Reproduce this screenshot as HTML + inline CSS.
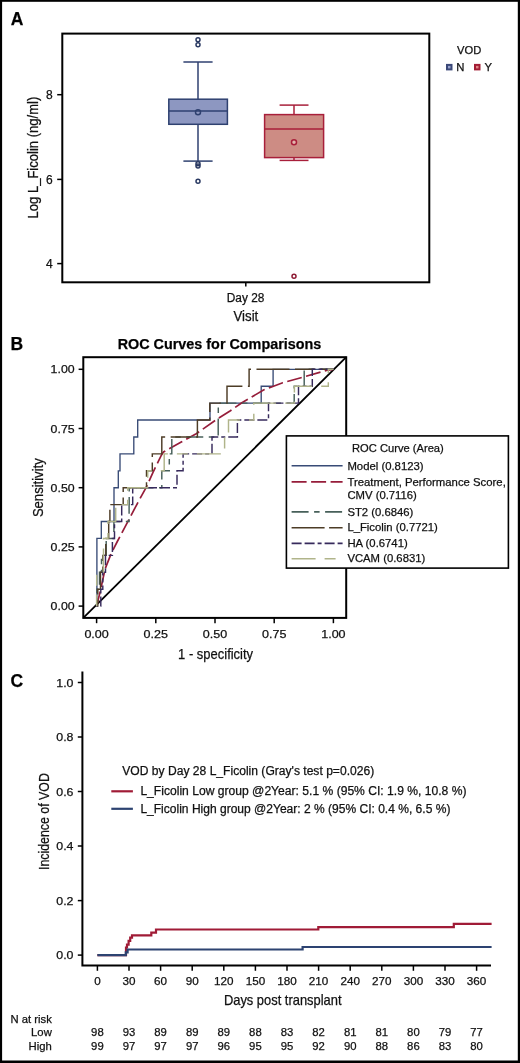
<!DOCTYPE html>
<html><head><meta charset="utf-8"><title>Figure</title>
<style>html,body{margin:0;padding:0;background:#fff;}body{width:520px;height:1063px;overflow:hidden;font-family:"Liberation Sans",sans-serif;}svg{display:block;will-change:transform;}text{font-family:"Liberation Sans",sans-serif;stroke:#111;stroke-width:0.25px;}</style>
</head><body>
<svg width="520" height="1063" viewBox="0 0 520 1063">
<rect x="0" y="0" width="520" height="1063" fill="#fff"/>
<g>
<text x="10.7" y="25.4" font-size="17.5" text-anchor="start" font-weight="bold" fill="#000" >A</text>
<rect x="62.3" y="33.6" width="367.0" height="248.70000000000002" fill="none" stroke="#000" stroke-width="2"/>
<line x1="57.2" y1="94.7" x2="62.3" y2="94.7" stroke="#000" stroke-width="1.5" />
<text x="52.8" y="99.0" font-size="12" text-anchor="end" fill="#111" >8</text>
<line x1="57.2" y1="179.4" x2="62.3" y2="179.4" stroke="#000" stroke-width="1.5" />
<text x="52.8" y="183.70000000000002" font-size="12" text-anchor="end" fill="#111" >6</text>
<line x1="57.2" y1="263.6" x2="62.3" y2="263.6" stroke="#000" stroke-width="1.5" />
<text x="52.8" y="267.90000000000003" font-size="12" text-anchor="end" fill="#111" >4</text>
<line x1="245.8" y1="282.3" x2="245.8" y2="286.6" stroke="#000" stroke-width="1.5" />
<text x="245.6" y="301.7" font-size="12" text-anchor="middle" textLength="37.6" lengthAdjust="spacingAndGlyphs" fill="#111" >Day 28</text>
<text x="245.9" y="321.2" font-size="14.5" text-anchor="middle" textLength="24.8" lengthAdjust="spacingAndGlyphs" fill="#111" >Visit</text>
<text x="37.8" y="218.5" font-size="14.5" text-anchor="start" textLength="121.8" lengthAdjust="spacingAndGlyphs" transform="rotate(-90 37.8 218.5)" fill="#111" >Log L_Ficolin (ng/ml)</text>
<g stroke="#2f4170" stroke-width="1.5" fill="none">
<line x1="198.0" y1="62" x2="198.0" y2="99.2"/>
<line x1="198.0" y1="124.3" x2="198.0" y2="161.1"/>
<line x1="183.4" y1="62" x2="212.6" y2="62"/>
<line x1="183.4" y1="161.1" x2="212.6" y2="161.1"/>
<rect x="168.8" y="99.2" width="58.6" height="25.1" fill="#8d97c1"/>
<line x1="168.8" y1="110.9" x2="227.4" y2="110.9"/>
<circle cx="198.0" cy="112.3" r="2.5"/>
<circle cx="198.0" cy="39.8" r="2.0" stroke-width="1.5" stroke="#2a3962"/>
<circle cx="198.0" cy="44.7" r="2.0" stroke-width="1.5" stroke="#2a3962"/>
<circle cx="198.0" cy="163.7" r="2.0" stroke-width="1.5" stroke="#2a3962"/>
<circle cx="198.0" cy="166.1" r="2.0" stroke-width="1.5" stroke="#2a3962"/>
<circle cx="198.0" cy="181.2" r="2.0" stroke-width="1.5" stroke="#2a3962"/>
</g>
<g stroke="#a81f3a" stroke-width="1.5" fill="none">
<line x1="294.0" y1="105.1" x2="294.0" y2="114.6"/>
<line x1="294.0" y1="157.6" x2="294.0" y2="160.4"/>
<line x1="279.6" y1="105.1" x2="308.5" y2="105.1"/>
<line x1="279.6" y1="160.4" x2="308.5" y2="160.4"/>
<rect x="264.6" y="114.6" width="59.0" height="43.0" fill="#cd8c84"/>
<line x1="264.6" y1="128.9" x2="323.6" y2="128.9"/>
<circle cx="294.0" cy="142.3" r="2.5" fill="#e3b5ad"/>
<circle cx="294.0" cy="276.3" r="2.0" stroke-width="1.5" stroke="#8e1a34"/>
</g>
<text x="469.2" y="53.5" font-size="11.3" text-anchor="middle" textLength="24.2" lengthAdjust="spacingAndGlyphs" fill="#111" >VOD</text>
<rect x="447.0" y="64.9" width="4.5" height="4.5" fill="#98a2cc" stroke="#3a4878" stroke-width="2"/>
<text x="456.2" y="70.9" font-size="11.3" text-anchor="start" fill="#111" >N</text>
<rect x="475.0" y="64.9" width="4.5" height="4.5" fill="#e08585" stroke="#a31c34" stroke-width="2"/>
<text x="484.4" y="70.9" font-size="11.3" text-anchor="start" fill="#111" >Y</text>
</g>
<g>
<text x="10.5" y="349.6" font-size="17.5" text-anchor="start" font-weight="bold" fill="#000" >B</text>
<text x="219.5" y="348.5" font-size="14" text-anchor="middle" font-weight="bold" textLength="203.6" lengthAdjust="spacingAndGlyphs" fill="#000" >ROC Curves for Comparisons</text>
<line x1="83.3" y1="617.9" x2="346.2" y2="357.2" stroke="#000" stroke-width="1.8" />
<g fill="none" stroke-width="1.45" stroke-linejoin="miter">
<path d="M96.9,606.1 V538.4 H101.3 V521.5 H114 V487.7 H118.3 V470.8 H120 V453.9 H133.8 V437 H137.7 V420 H210 V403.1 H261.2 V386.2 H273.1 V369.3 H333.4" stroke="#384b76" stroke-width="1.35"/>
<path d="M96.6,606.1 L100.4,590.8 L105,569.2 L111.2,553.5 L117.3,541.5 L139.2,500 L146.2,487.4 L153,472.3 L161.5,455 L163.5,452 L180.8,442.3 L196.2,433.8 L217,419.2 L230,411 L241.5,403 L263.5,390 L282.7,382.7 L300,378 L327.3,370.2 L333.4,369.3" stroke="#961d3a" stroke-width="1.7" stroke-dasharray="15 4.5"/>
<path d="M96.6,606.1 H96.9 V589.19 H99.5 V572.27 H101.5 V555.36 H106.2 V538.44 H113.9 V521.53 H129.1 V504.61 H129.2 V487.7 H161.8 V470.79 H169.3 V453.87 H171.8 V436.96 H218.2 V420.04 H218.3 V403.13 H294.2 V386.21 H304.2 V369.3 H333.4" stroke="#47605a" stroke-dasharray="17 5.5 5.5 5.5" stroke-dashoffset="9.2"/>
<path d="M96.6,606.1 H97.8 V589.19 H100.5 V572.27 H102.8 V555.36 H105.8 V538.44 H108.7 V521.53 H109.9 V504.61 H123.2 V487.7 H146.5 V470.79 H152.3 V453.87 H161.8 V436.96 H197.4 V420.04 H209.8 V403.13 H227.0 V386.21 H249.1 V369.3 H333.4" stroke="#4d3c26" stroke-dasharray="33 5.5 20 5.5" stroke-dashoffset="51.31"/>
<path d="M96.6,606.1 H100.8 V589.19 H102.8 V572.27 H105.5 V555.36 H112.4 V538.44 H114.5 V521.53 H121.7 V504.61 H132.7 V487.7 H177 V470.79 H183.1 V453.87 H212.0 V436.96 H237.4 V420.04 H268.5 V403.13 H298.5 V386.21 H312.3 V369.3 H333.4" stroke="#372a5c" stroke-dasharray="10 3 10 3 4 3" stroke-dashoffset="29.2"/>
<path d="M96.6,606.1 H96.6 V589.19 H96.7 V572.27 H103.4 V555.36 H103.5 V538.44 H108 V521.53 H115.7 V504.61 H127.7 V487.7 H147.7 V470.79 H164.2 V453.87 H224.6 V436.96 H228.5 V420.04 H253.8 V403.13 H294.4 V386.21 H328.3 V369.3 H333.4" stroke="#b0b48a" stroke-dasharray="24 9 11 9" stroke-dashoffset="12.5"/>
</g>
<rect x="83.3" y="357.2" width="262.9" height="260.7" fill="none" stroke="#000" stroke-width="2"/>
<line x1="96.6" y1="617.9" x2="96.6" y2="623.2" stroke="#000" stroke-width="1.5" />
<text x="96.6" y="638.4" font-size="11.4" text-anchor="middle" textLength="24.4" lengthAdjust="spacingAndGlyphs" fill="#111" >0.00</text>
<line x1="78.6" y1="606.1" x2="83.3" y2="606.1" stroke="#000" stroke-width="1.5" />
<text x="74.6" y="610.2" font-size="11.4" text-anchor="end" textLength="24.0" lengthAdjust="spacingAndGlyphs" fill="#111" >0.00</text>
<line x1="155.8" y1="617.9" x2="155.8" y2="623.2" stroke="#000" stroke-width="1.5" />
<text x="155.8" y="638.4" font-size="11.4" text-anchor="middle" textLength="24.4" lengthAdjust="spacingAndGlyphs" fill="#111" >0.25</text>
<line x1="78.6" y1="546.9" x2="83.3" y2="546.9" stroke="#000" stroke-width="1.5" />
<text x="74.6" y="551.0" font-size="11.4" text-anchor="end" textLength="24.0" lengthAdjust="spacingAndGlyphs" fill="#111" >0.25</text>
<line x1="215.0" y1="617.9" x2="215.0" y2="623.2" stroke="#000" stroke-width="1.5" />
<text x="215.0" y="638.4" font-size="11.4" text-anchor="middle" textLength="24.4" lengthAdjust="spacingAndGlyphs" fill="#111" >0.50</text>
<line x1="78.6" y1="487.7" x2="83.3" y2="487.7" stroke="#000" stroke-width="1.5" />
<text x="74.6" y="491.8" font-size="11.4" text-anchor="end" textLength="24.0" lengthAdjust="spacingAndGlyphs" fill="#111" >0.50</text>
<line x1="274.2" y1="617.9" x2="274.2" y2="623.2" stroke="#000" stroke-width="1.5" />
<text x="274.2" y="638.4" font-size="11.4" text-anchor="middle" textLength="24.4" lengthAdjust="spacingAndGlyphs" fill="#111" >0.75</text>
<line x1="78.6" y1="428.5" x2="83.3" y2="428.5" stroke="#000" stroke-width="1.5" />
<text x="74.6" y="432.6" font-size="11.4" text-anchor="end" textLength="24.0" lengthAdjust="spacingAndGlyphs" fill="#111" >0.75</text>
<line x1="333.4" y1="617.9" x2="333.4" y2="623.2" stroke="#000" stroke-width="1.5" />
<text x="333.4" y="638.4" font-size="11.4" text-anchor="middle" textLength="24.4" lengthAdjust="spacingAndGlyphs" fill="#111" >1.00</text>
<line x1="78.6" y1="369.3" x2="83.3" y2="369.3" stroke="#000" stroke-width="1.5" />
<text x="74.6" y="373.40000000000003" font-size="11.4" text-anchor="end" textLength="24.0" lengthAdjust="spacingAndGlyphs" fill="#111" >1.00</text>
<text x="215.6" y="658.8" font-size="14.5" text-anchor="middle" textLength="75.0" lengthAdjust="spacingAndGlyphs" fill="#111" >1 - specificity</text>
<text x="43.1" y="517.1" font-size="15" text-anchor="start" textLength="58.8" lengthAdjust="spacingAndGlyphs" transform="rotate(-90 43.1 517.1)" fill="#111" >Sensitivity</text>
<rect x="286.4" y="435.9" width="222.0" height="132.2" fill="#fff" stroke="#000" stroke-width="1.6"/>
<text x="397.9" y="452.4" font-size="11.3" text-anchor="middle" textLength="91.8" lengthAdjust="spacingAndGlyphs" fill="#111" >ROC Curve (Area)</text>
<line x1="291.6" y1="465.8" x2="342.6" y2="465.8" stroke="#384b76" stroke-width="1.6"/>
<text x="347.4" y="469.9" font-size="11.3" text-anchor="start" textLength="76.2" lengthAdjust="spacingAndGlyphs" fill="#111" >Model (0.8123)</text>
<line x1="291.6" y1="481.9" x2="342.6" y2="481.9" stroke="#961d3a" stroke-width="1.6" stroke-dasharray="15 4.5"/>
<text x="347.4" y="486.1" font-size="11.3" text-anchor="start" textLength="158.4" lengthAdjust="spacingAndGlyphs" fill="#111" >Treatment, Performance Score,</text>
<text x="347.4" y="498.8" font-size="11.3" text-anchor="start" fill="#111" >CMV (0.7116)</text>
<line x1="291.6" y1="511.9" x2="342.6" y2="511.9" stroke="#47605a" stroke-width="1.6" stroke-dasharray="17 5.5 5.5 5.5"/>
<text x="347.4" y="515.7" font-size="11.3" text-anchor="start" fill="#111" >ST2 (0.6846)</text>
<line x1="291.6" y1="527.8" x2="342.6" y2="527.8" stroke="#4d3c26" stroke-width="1.6" stroke-dasharray="33 4.5 20 4.5"/>
<text x="347.4" y="531.2" font-size="11.3" text-anchor="start" fill="#111" >L_Ficolin (0.7721)</text>
<line x1="291.6" y1="543.4" x2="342.6" y2="543.4" stroke="#372a5c" stroke-width="1.6" stroke-dasharray="10 3 10 3 4 3"/>
<text x="347.4" y="546.8" font-size="11.3" text-anchor="start" fill="#111" >HA (0.6741)</text>
<line x1="291.6" y1="558.7" x2="336.0" y2="558.7" stroke="#b0b48a" stroke-width="1.6" stroke-dasharray="24 9 11 9"/>
<text x="347.4" y="562.3" font-size="11.3" text-anchor="start" fill="#111" >VCAM (0.6831)</text>
</g>
<g>
<text x="10.5" y="686.9" font-size="17.5" text-anchor="start" font-weight="bold" fill="#000" >C</text>
<path d="M82.4,671.4 V965.6 H491" fill="none" stroke="#000" stroke-width="2"/>
<line x1="77.8" y1="955.1" x2="82.4" y2="955.1" stroke="#000" stroke-width="1.5" />
<text x="73.5" y="959.2" font-size="11.4" text-anchor="end" textLength="17.2" lengthAdjust="spacingAndGlyphs" fill="#111" >0.0</text>
<line x1="77.8" y1="900.6" x2="82.4" y2="900.6" stroke="#000" stroke-width="1.5" />
<text x="73.5" y="904.7" font-size="11.4" text-anchor="end" textLength="17.2" lengthAdjust="spacingAndGlyphs" fill="#111" >0.2</text>
<line x1="77.8" y1="846.0" x2="82.4" y2="846.0" stroke="#000" stroke-width="1.5" />
<text x="73.5" y="850.1" font-size="11.4" text-anchor="end" textLength="17.2" lengthAdjust="spacingAndGlyphs" fill="#111" >0.4</text>
<line x1="77.8" y1="791.5" x2="82.4" y2="791.5" stroke="#000" stroke-width="1.5" />
<text x="73.5" y="795.6" font-size="11.4" text-anchor="end" textLength="17.2" lengthAdjust="spacingAndGlyphs" fill="#111" >0.6</text>
<line x1="77.8" y1="737.0" x2="82.4" y2="737.0" stroke="#000" stroke-width="1.5" />
<text x="73.5" y="741.1" font-size="11.4" text-anchor="end" textLength="17.2" lengthAdjust="spacingAndGlyphs" fill="#111" >0.8</text>
<line x1="77.8" y1="682.5" x2="82.4" y2="682.5" stroke="#000" stroke-width="1.5" />
<text x="73.5" y="686.6" font-size="11.4" text-anchor="end" textLength="17.2" lengthAdjust="spacingAndGlyphs" fill="#111" >1.0</text>
<line x1="97.4" y1="965.6" x2="97.4" y2="970.8" stroke="#000" stroke-width="1.5" />
<text x="97.4" y="985.1" font-size="11.2" text-anchor="middle" textLength="6.5" lengthAdjust="spacingAndGlyphs" fill="#111" >0</text>
<text x="97.4" y="1036.4" font-size="11.3" text-anchor="middle" fill="#111" >98</text>
<text x="97.4" y="1049.6" font-size="11.3" text-anchor="middle" fill="#111" >99</text>
<line x1="129.0" y1="965.6" x2="129.0" y2="970.8" stroke="#000" stroke-width="1.5" />
<text x="129.0" y="985.1" font-size="11.2" text-anchor="middle" textLength="13.0" lengthAdjust="spacingAndGlyphs" fill="#111" >30</text>
<text x="129.0" y="1036.4" font-size="11.3" text-anchor="middle" fill="#111" >93</text>
<text x="129.0" y="1049.6" font-size="11.3" text-anchor="middle" fill="#111" >97</text>
<line x1="160.6" y1="965.6" x2="160.6" y2="970.8" stroke="#000" stroke-width="1.5" />
<text x="160.6" y="985.1" font-size="11.2" text-anchor="middle" textLength="13.0" lengthAdjust="spacingAndGlyphs" fill="#111" >60</text>
<text x="160.6" y="1036.4" font-size="11.3" text-anchor="middle" fill="#111" >89</text>
<text x="160.6" y="1049.6" font-size="11.3" text-anchor="middle" fill="#111" >97</text>
<line x1="192.2" y1="965.6" x2="192.2" y2="970.8" stroke="#000" stroke-width="1.5" />
<text x="192.2" y="985.1" font-size="11.2" text-anchor="middle" textLength="13.0" lengthAdjust="spacingAndGlyphs" fill="#111" >90</text>
<text x="192.2" y="1036.4" font-size="11.3" text-anchor="middle" fill="#111" >89</text>
<text x="192.2" y="1049.6" font-size="11.3" text-anchor="middle" fill="#111" >97</text>
<line x1="223.8" y1="965.6" x2="223.8" y2="970.8" stroke="#000" stroke-width="1.5" />
<text x="223.8" y="985.1" font-size="11.2" text-anchor="middle" textLength="19.5" lengthAdjust="spacingAndGlyphs" fill="#111" >120</text>
<text x="223.8" y="1036.4" font-size="11.3" text-anchor="middle" fill="#111" >89</text>
<text x="223.8" y="1049.6" font-size="11.3" text-anchor="middle" fill="#111" >96</text>
<line x1="255.4" y1="965.6" x2="255.4" y2="970.8" stroke="#000" stroke-width="1.5" />
<text x="255.4" y="985.1" font-size="11.2" text-anchor="middle" textLength="19.5" lengthAdjust="spacingAndGlyphs" fill="#111" >150</text>
<text x="255.4" y="1036.4" font-size="11.3" text-anchor="middle" fill="#111" >88</text>
<text x="255.4" y="1049.6" font-size="11.3" text-anchor="middle" fill="#111" >95</text>
<line x1="287.0" y1="965.6" x2="287.0" y2="970.8" stroke="#000" stroke-width="1.5" />
<text x="287.0" y="985.1" font-size="11.2" text-anchor="middle" textLength="19.5" lengthAdjust="spacingAndGlyphs" fill="#111" >180</text>
<text x="287.0" y="1036.4" font-size="11.3" text-anchor="middle" fill="#111" >83</text>
<text x="287.0" y="1049.6" font-size="11.3" text-anchor="middle" fill="#111" >95</text>
<line x1="318.6" y1="965.6" x2="318.6" y2="970.8" stroke="#000" stroke-width="1.5" />
<text x="318.6" y="985.1" font-size="11.2" text-anchor="middle" textLength="19.5" lengthAdjust="spacingAndGlyphs" fill="#111" >210</text>
<text x="318.6" y="1036.4" font-size="11.3" text-anchor="middle" fill="#111" >82</text>
<text x="318.6" y="1049.6" font-size="11.3" text-anchor="middle" fill="#111" >92</text>
<line x1="350.2" y1="965.6" x2="350.2" y2="970.8" stroke="#000" stroke-width="1.5" />
<text x="350.2" y="985.1" font-size="11.2" text-anchor="middle" textLength="19.5" lengthAdjust="spacingAndGlyphs" fill="#111" >240</text>
<text x="350.2" y="1036.4" font-size="11.3" text-anchor="middle" fill="#111" >81</text>
<text x="350.2" y="1049.6" font-size="11.3" text-anchor="middle" fill="#111" >90</text>
<line x1="381.8" y1="965.6" x2="381.8" y2="970.8" stroke="#000" stroke-width="1.5" />
<text x="381.8" y="985.1" font-size="11.2" text-anchor="middle" textLength="19.5" lengthAdjust="spacingAndGlyphs" fill="#111" >270</text>
<text x="381.8" y="1036.4" font-size="11.3" text-anchor="middle" fill="#111" >81</text>
<text x="381.8" y="1049.6" font-size="11.3" text-anchor="middle" fill="#111" >88</text>
<line x1="413.4" y1="965.6" x2="413.4" y2="970.8" stroke="#000" stroke-width="1.5" />
<text x="413.4" y="985.1" font-size="11.2" text-anchor="middle" textLength="19.5" lengthAdjust="spacingAndGlyphs" fill="#111" >300</text>
<text x="413.4" y="1036.4" font-size="11.3" text-anchor="middle" fill="#111" >80</text>
<text x="413.4" y="1049.6" font-size="11.3" text-anchor="middle" fill="#111" >86</text>
<line x1="445.0" y1="965.6" x2="445.0" y2="970.8" stroke="#000" stroke-width="1.5" />
<text x="445.0" y="985.1" font-size="11.2" text-anchor="middle" textLength="19.5" lengthAdjust="spacingAndGlyphs" fill="#111" >330</text>
<text x="445.0" y="1036.4" font-size="11.3" text-anchor="middle" fill="#111" >79</text>
<text x="445.0" y="1049.6" font-size="11.3" text-anchor="middle" fill="#111" >83</text>
<line x1="476.6" y1="965.6" x2="476.6" y2="970.8" stroke="#000" stroke-width="1.5" />
<text x="476.6" y="985.1" font-size="11.2" text-anchor="middle" textLength="19.5" lengthAdjust="spacingAndGlyphs" fill="#111" >360</text>
<text x="476.6" y="1036.4" font-size="11.3" text-anchor="middle" fill="#111" >77</text>
<text x="476.6" y="1049.6" font-size="11.3" text-anchor="middle" fill="#111" >80</text>
<text x="282.7" y="1005.0" font-size="14.5" text-anchor="middle" textLength="117.6" lengthAdjust="spacingAndGlyphs" fill="#111" >Days post transplant</text>
<text x="48.9" y="870.0" font-size="14.5" text-anchor="start" textLength="96.9" lengthAdjust="spacingAndGlyphs" transform="rotate(-90 48.9 870.0)" fill="#111" >Incidence of VOD</text>
<text x="10.5" y="1022.6" font-size="11.3" text-anchor="start" textLength="41.3" lengthAdjust="spacingAndGlyphs" fill="#111" >N at risk</text>
<text x="51.8" y="1036.4" font-size="11.3" text-anchor="end" fill="#111" >Low</text>
<text x="51.8" y="1049.6" font-size="11.3" text-anchor="end" fill="#111" >High</text>
<text x="122.3" y="775.0" font-size="12" text-anchor="start" textLength="251.9" lengthAdjust="spacingAndGlyphs" fill="#111" >VOD by Day 28 L_Ficolin (Gray's test p=0.026)</text>
<line x1="111.3" y1="791.3" x2="132.9" y2="791.3" stroke="#a01b36" stroke-width="2.2" />
<text x="140.4" y="795.0" font-size="12" text-anchor="start" textLength="326.1" lengthAdjust="spacingAndGlyphs" fill="#111" >L_Ficolin Low group @2Year: 5.1 % (95% CI: 1.9 %, 10.8 %)</text>
<line x1="111.3" y1="808.8" x2="132.9" y2="808.8" stroke="#2d4371" stroke-width="2.2" />
<text x="140.4" y="812.6" font-size="12" text-anchor="start" textLength="310.0" lengthAdjust="spacingAndGlyphs" fill="#111" >L_Ficolin High group @2Year: 2 % (95% CI: 0.4 %, 6.5 %)</text>
<path d="M97.4,955.1 H126.0 V947.5 H127.0 V944.6 H128.6 V940.8 H130.2 V937.6 H132.0 V935.4 H151.3 V932.7 H156.0 V929.5 H318.3 V927.1 H453.8 V923.9 H491.6" fill="none" stroke="#a01b36" stroke-width="2.2"/>
<path d="M97.4,955.1 H125.8 V952.3 H127.6 V949.5 H302.6 V947.0 H491.6" fill="none" stroke="#2d4371" stroke-width="2.2"/>
</g>
<rect x="0" y="0" width="520" height="1.8" fill="#000"/>
<rect x="0" y="0" width="2.1" height="1063" fill="#000"/>
<rect x="517.8" y="0" width="2.2" height="1063" fill="#000"/>
<rect x="0" y="1060.5" width="520" height="2.5" fill="#000"/>
</svg></body></html>
